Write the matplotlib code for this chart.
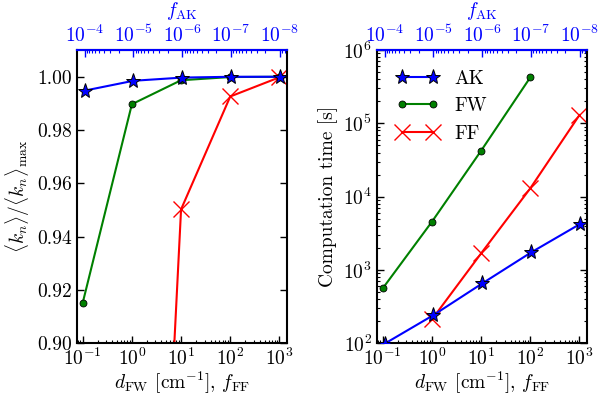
import numpy as np
import matplotlib
matplotlib.use('Agg')
import matplotlib.pyplot as plt
from matplotlib.ticker import LogLocator, NullFormatter

# ---------------------------------------------------------------------------------------------------------------------
# DATA
# ---------------------------------------------------------------------------------------------------------------------
f_ak = [1e-4, 1e-5, 1e-6, 1e-7, 1e-8]
d_fw = [0.1, 1.0, 10.0, 100.0, 1000.0]
f_ff = [1.0, 10.0, 100.0, 1000.0]

# normalised <k_n>
ak_kn = [0.9948, 0.9985, 0.9997, 1.0000, 1.0000]
fw_kn = [0.9151, 0.9897, 0.9987, 0.9999, 1.0000]
ff_kn = [0.583, 0.9502, 0.9926, 0.9998]

# computation time [s]
ak_time = [98, 241, 653, 1730, 4220]
fw_time = [558, 4530, 42200, 424000]
fw_time_x = [0.1, 1.0, 10.0, 100.0]
ff_time = [210, 1675, 12950, 129700]

# ---------------------------------------------------------------------------------------------------------------------
# STYLE
# ---------------------------------------------------------------------------------------------------------------------
plt.rcParams['font.family'] = 'serif'
plt.rcParams['font.serif'] = ['cmr10', 'DejaVu Serif']
plt.rcParams['mathtext.fontset'] = 'cm'
plt.rcParams['axes.formatter.use_mathtext'] = True
plt.rcParams['axes.unicode_minus'] = False
plt.rcParams['axes.linewidth'] = 1.5
plt.rcParams['xtick.direction'] = 'in'
plt.rcParams['ytick.direction'] = 'in'

FS = 14
BLUE = (0, 0, 1)
GREEN = (0, 0.5, 0)
RED = (1, 0, 0)

XLIM = (10 ** -1.12, 10 ** 3.15)
XLIM_AK = (10 ** -3.84, 10 ** -8.14)


def log_ticks(axis):
    axis.set_major_locator(LogLocator(base=10, numticks=20))
    axis.set_minor_locator(LogLocator(base=10, subs=np.arange(2, 10), numticks=20))
    axis.set_minor_formatter(NullFormatter())


def style_axes(ax):
    ax.set_xscale('log')
    ax.set_xlim(*XLIM)
    log_ticks(ax.xaxis)
    ax.tick_params(which='both', top=False, right=True, labelsize=FS)
    ax.tick_params(which='major', length=5, width=1)
    ax.tick_params(which='minor', length=2.5, width=0.8)
    ax.tick_params(axis='x', pad=3)
    ax.set_xlabel(r'$d_{\rm FW}$ [cm$^{-1}$], $f_{\rm FF}$', fontsize=FS, labelpad=1)


def make_twin(ax):
    tw = ax.twiny()
    tw.set_xscale('log')
    tw.set_xlim(*XLIM_AK)
    log_ticks(tw.xaxis)
    tw.tick_params(which='both', bottom=False, top=True, colors=BLUE, labelsize=FS)
    tw.tick_params(which='major', length=5, width=1)
    tw.tick_params(which='minor', length=2.5, width=0.8)
    tw.tick_params(axis='x', pad=3)
    tw.spines['top'].set_color(BLUE)
    for s in ['bottom', 'left', 'right']:
        tw.spines[s].set_visible(False)
    tw.set_xlabel(r'$f_{\rm AK}$', fontsize=FS, color=BLUE, labelpad=6)
    return tw


fig = plt.figure(figsize=(6.0, 3.98), dpi=100)
ax1 = fig.add_axes([0.128, 0.138, 0.350, 0.736])
ax2 = fig.add_axes([0.628, 0.138, 0.350, 0.736])

# left panel: normalised <k_n>
style_axes(ax1)
ax1.plot(d_fw, fw_kn, '-o', color=GREEN, lw=1.5, ms=5, mec='k', mew=0.6, label='FW')
ax1.plot(f_ff, ff_kn, '-x', color=RED, lw=1.5, ms=11, mew=1.0, label='FF')
ax1.set_ylim(0.90, 1.01)
ax1.set_yticks([0.90, 0.92, 0.94, 0.96, 0.98, 1.00])
ax1.set_yticklabels(['0.90', '0.92', '0.94', '0.96', '0.98', '1.00'])
ax1.set_ylabel(r'$\langle k_n\rangle/\langle k_n\rangle_{\max}$', fontsize=FS)
tw1 = make_twin(ax1)
tw1.plot(f_ak, ak_kn, '-*', color=BLUE, lw=1.5, ms=11, mec='k', mew=0.7, label='AK')

# right panel: computation time
style_axes(ax2)
l_fw, = ax2.plot(fw_time_x, fw_time, '-o', color=GREEN, lw=1.5, ms=5, mec='k', mew=0.6, label='FW')
l_ff, = ax2.plot(f_ff, ff_time, '-x', color=RED, lw=1.5, ms=11, mew=1.0, label='FF')
ax2.set_yscale('log')
ax2.set_ylim(1e2, 1e6)
log_ticks(ax2.yaxis)
ax2.set_ylabel('Computation time [s]', fontsize=FS)
tw2 = make_twin(ax2)
l_ak, = tw2.plot(f_ak, ak_time, '-*', color=BLUE, lw=1.5, ms=11, mec='k', mew=0.7, label='AK')
tw2.legend([l_ak, l_fw, l_ff], ['AK', 'FW', 'FF'], loc='upper left', frameon=False,
           numpoints=2, fontsize=FS, handlelength=2.2, borderaxespad=0.6)

fig.savefig('out.png', dpi=100)
